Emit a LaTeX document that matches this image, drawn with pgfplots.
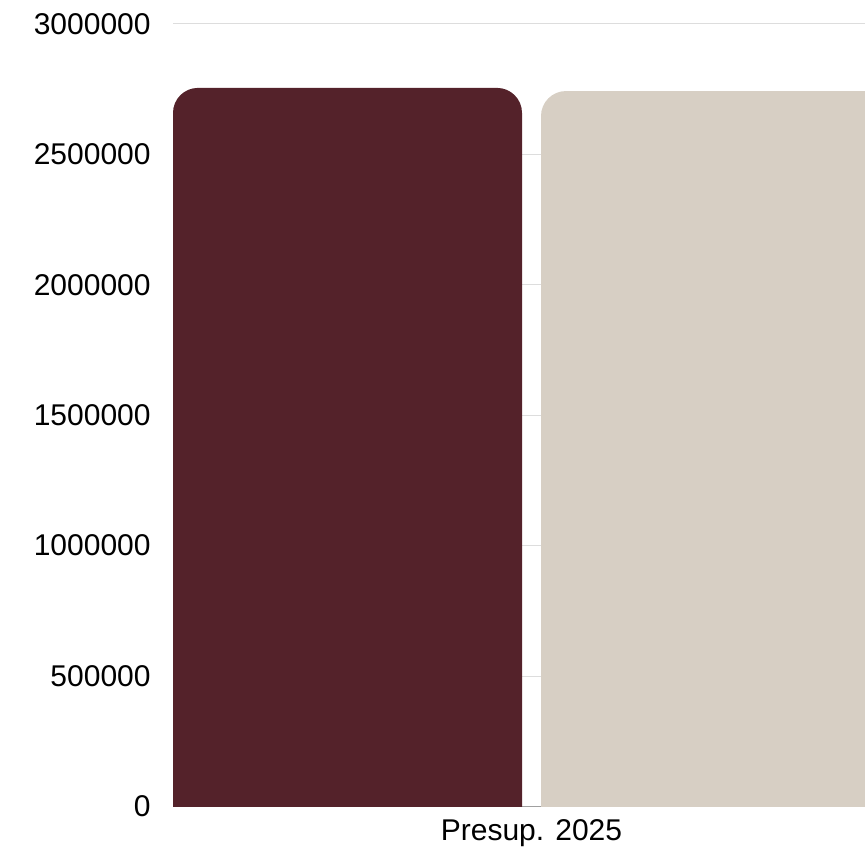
\documentclass[border=0pt]{standalone}
\usepackage{pgfplots}
\pgfplotsset{compat=1.18}
\usepackage{fontspec}
\setmainfont{Liberation Sans}
\usetikzlibrary{calc}
\definecolor{maroon}{RGB}{84,34,42}
\definecolor{beige}{RGB}{215,207,196}
\definecolor{gridc}{RGB}{221,221,221}
\definecolor{axc}{RGB}{160,160,160}
\begin{document}
\begin{tikzpicture}
\begin{axis}[name=ax, scale only axis, width=346pt, height=391.25pt,
  xmin=-358.5, xmax=333.5, ymin=0, ymax=3000000,
  ytick={0,500000,1000000,1500000,2000000,2500000,3000000},
  xtick={0}, xticklabels={Presup. 2025},
  ymajorgrids, grid style={gridc, line width=0.5pt},
  axis x line*=bottom, axis y line*=left, y axis line style={draw=none},
  x axis line style={axc, line width=0.6pt},
  major tick length=0pt,
  scaled y ticks=false,
  /pgf/number format/fixed,
  /pgf/number format/assume math mode=true,
  /pgf/number format/1000 sep={},
  tick label style={font=\fontsize{15}{18}\selectfont, inner sep=0pt},
  yticklabel style={anchor=east, xshift=-11pt},
  xticklabel style={anchor=north, yshift=-6.5pt},
]
\addplot[fill=maroon, draw=none, rounded corners=12.5pt] coordinates {(-358.5,-400000) (-358.5,2755000) (-9.5,2755000) (-9.5,-400000)} -- cycle;
\addplot[fill=beige, draw=none, rounded corners=12.5pt] coordinates {(9.5,-400000) (9.5,2743000) (358.5,2743000) (358.5,-400000)} -- cycle;
\end{axis}
\pgfresetboundingbox
\useasboundingbox ($(ax.south west)+(-86.5pt,-21.75pt)$) rectangle ($(ax.north east)+(0pt,12pt)$);
\end{tikzpicture}
\end{document}
